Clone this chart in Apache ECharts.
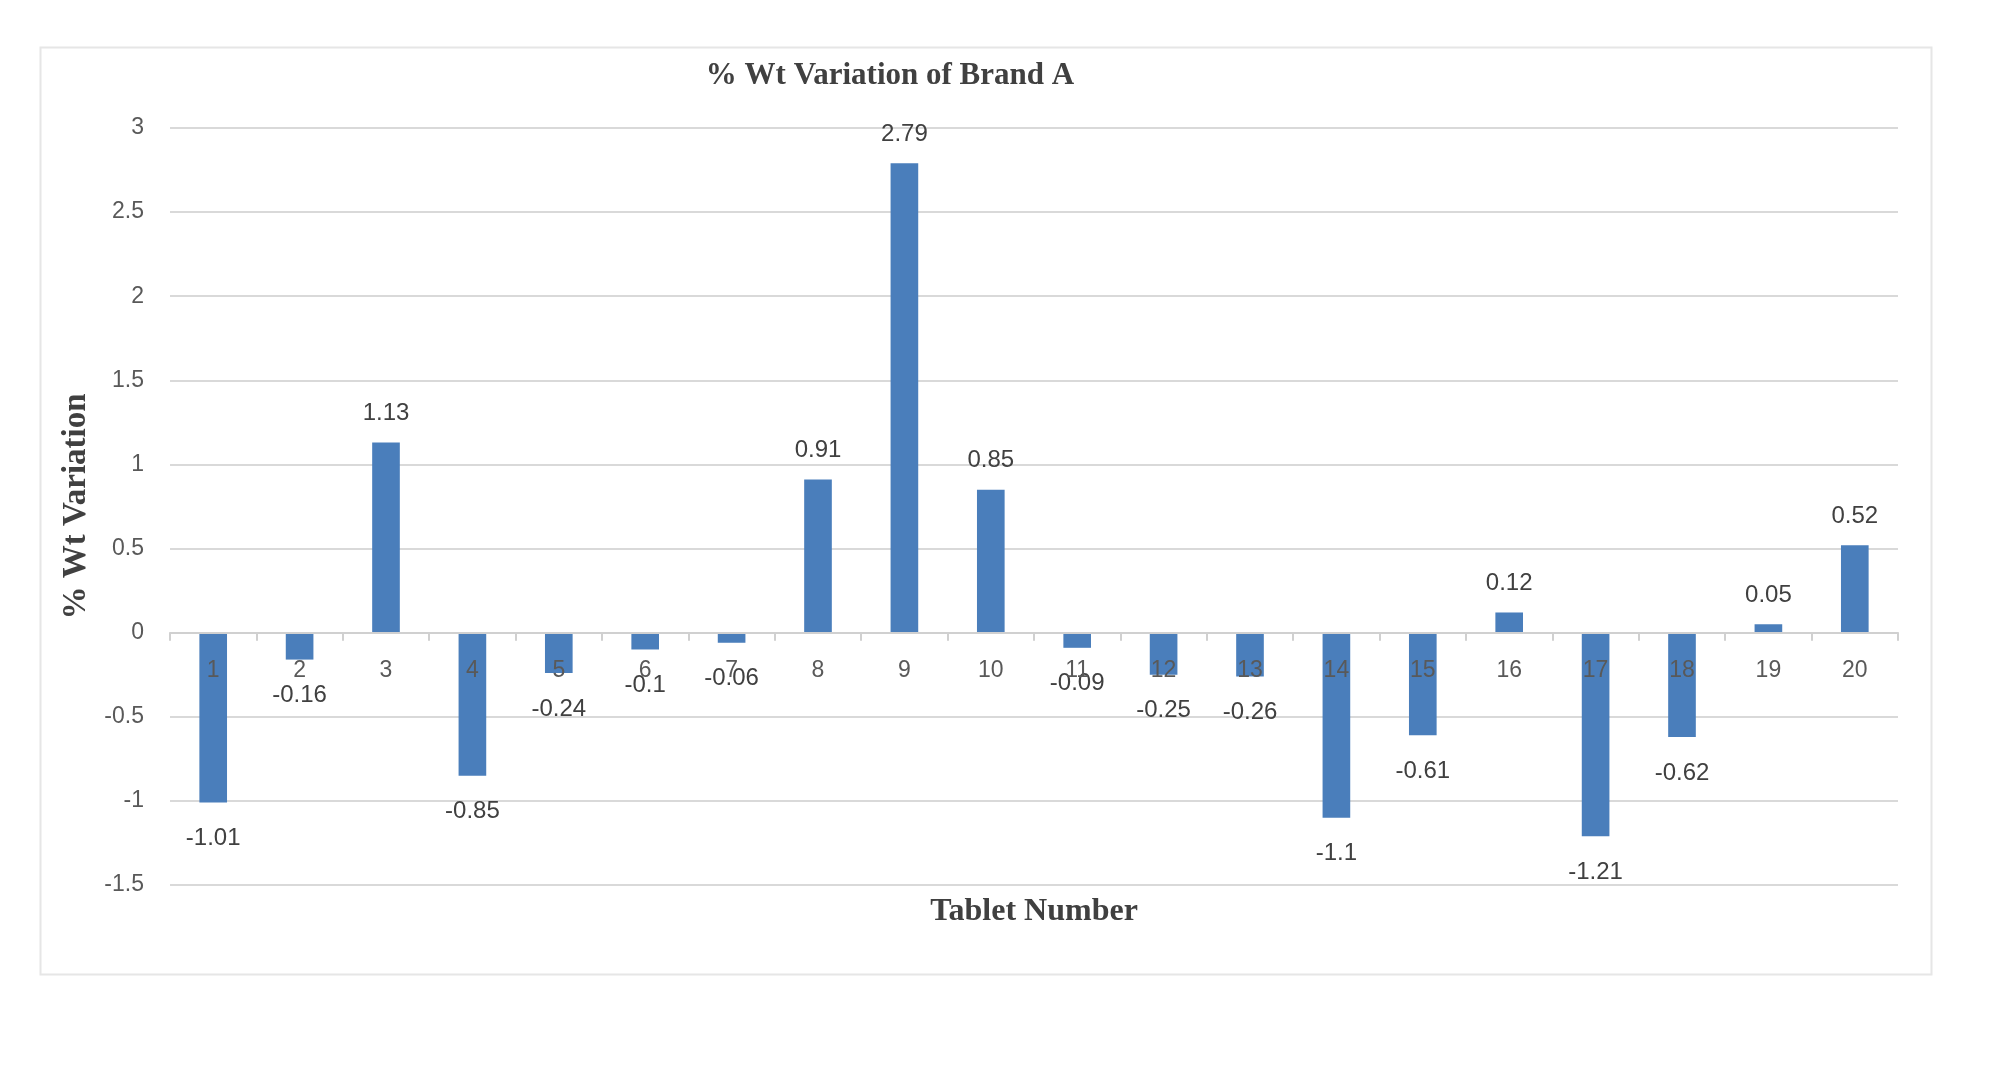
<!DOCTYPE html>
<html>
<head>
<meta charset="utf-8">
<script src="https://cdn.jsdelivr.net/npm/echarts@6/dist/echarts.min.js"></script>
<style>html,body{margin:0;padding:0;background:#fff;}#c{width:2000px;height:1090px;}</style>
</head>
<body>
<div id="c"></div>
<script>
const categories = ['1','2','3','4','5','6','7','8','9','10','11','12','13','14','15','16','17','18','19','20'];
const values = [-1.01,-0.16,1.13,-0.85,-0.24,-0.1,-0.06,0.91,2.79,0.85,-0.09,-0.25,-0.26,-1.1,-0.61,0.12,-1.21,-0.62,0.05,0.52];
const titleText = '% Wt Variation of Brand A';
const yName = '% Wt Variation';
const xName = 'Tablet Number';

const yMin = -1.5, yMax = 3;
const gridTop = 128, gridBottom = 205, gridLeft = 170, gridRight = 102;
const plotH = 1090 - gridTop - gridBottom;
const zeroOffset = -(plotH * (0 - yMin) / (yMax - yMin));

const chart = echarts.init(document.getElementById('c'));
const sansFont = "'Liberation Sans Narrow', 'Liberation Sans', sans-serif";
const serifFont = "'Liberation Serif', 'DejaVu Serif', serif";
chart.setOption({
  animation: false,
  backgroundColor: '#ffffff',
  graphic: [{
    type: 'rect', left: 38, top: 45, shape: {width: 1891, height: 927},
    style: {fill: 'none', stroke: '#e6e6e6', lineWidth: 2}, silent: true, z: -10
  }],
  title: {
    text: titleText, left: 885, top: 55, textAlign: 'center',
    textStyle: {fontFamily: serifFont, fontWeight: 'bold', fontSize: 31, color: '#404040'}
  },
  grid: {left: gridLeft, right: gridRight, top: gridTop, bottom: gridBottom, containLabel: false, outerBoundsMode: 'none'},
  xAxis: {
    type: 'category', data: categories, position: 'bottom', offset: zeroOffset, z: 5,
    name: xName, nameLocation: 'middle', nameGap: 263,
    nameTextStyle: {fontFamily: serifFont, fontWeight: 'bold', fontSize: 32, color: '#404040'},
    axisLine: {onZero: false, lineStyle: {color: '#d0d0d0', width: 2}},
    axisTick: {show: true, length: 8, lineStyle: {color: '#d0d0d0', width: 2}},
    axisLabel: {interval: 0, fontFamily: sansFont, fontSize: 23, color: '#595959', margin: 26}
  },
  yAxis: {
    type: 'value', min: yMin, max: yMax, interval: 0.5,
    name: yName, nameLocation: 'middle', nameGap: 74, nameRotate: 90,
    nameTextStyle: {fontFamily: serifFont, fontWeight: 'bold', fontSize: 33, color: '#404040'},
    axisLine: {show: false}, axisTick: {show: false},
    axisLabel: {fontFamily: sansFont, fontSize: 23, color: '#595959', margin: 26},
    splitLine: {lineStyle: {color: '#d9d9d9', width: 2}}
  },
  series: [{
    type: 'bar', barWidth: '32%', z: 2,
    itemStyle: {color: '#4a7ebb'},
    data: values.map(v => ({
      value: v,
      label: {show: true, position: v < 0 ? 'bottom' : 'top', distance: v < 0 ? 24 : 17}
    })),
    label: {fontFamily: sansFont, fontSize: 24, color: '#404040'}
  }]
});
</script>
</body>
</html>
